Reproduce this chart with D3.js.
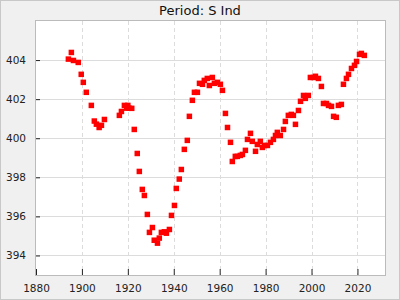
<!DOCTYPE html>
<html>
<head>
<meta charset="utf-8">
<script src="https://cdn.jsdelivr.net/npm/d3@7"></script>
<style>
  body { margin: 0; background: #f0f0f0; }
  svg { display: block; font-family: "DejaVu Sans", sans-serif; }
</style>
</head>
<body>
<div id="vis"></div>
<script>
// data
var years = [1894.1, 1895.4, 1896.3, 1898.4, 1899.7, 1900.6, 1901.9, 1904.1, 1905.4, 1906.3,
  1907.5, 1908.5, 1909.8, 1916.3, 1917.2, 1918.5, 1919.5, 1920.0, 1920.5, 1921.7,
  1922.8, 1924.1, 1925.0, 1926.3, 1927.2, 1928.5, 1929.4, 1930.7, 1931.5, 1932.9,
  1933.7, 1934.6, 1935.9, 1936.8, 1938.1, 1939.0, 1940.3, 1941.1, 1942.4, 1943.3,
  1944.6, 1945.9, 1946.8, 1948.1, 1949.0, 1950.3, 1951.2, 1952.5, 1953.3, 1954.6,
  1955.5, 1956.8, 1957.7, 1959.0, 1960.3, 1961.2, 1962.5, 1963.4, 1964.7, 1965.5,
  1966.8, 1967.7, 1969.0, 1969.9, 1971.2, 1972.1, 1973.4, 1974.2, 1975.6, 1976.4,
  1977.7, 1978.6, 1979.5, 1980.8, 1982.1, 1983.4, 1984.3, 1985.1, 1986.4, 1987.8,
  1988.6, 1989.9, 1991.2, 1992.1, 1993.0, 1994.3, 1995.2, 1996.5, 1997.3, 1998.6,
  1999.5, 2000.8, 2001.7, 2003.0, 2004.3, 2005.2, 2006.5, 2007.4, 2008.7, 2009.6,
  2010.8, 2011.7, 2013.0, 2013.9, 2015.2, 2016.1, 2017.4, 2018.7, 2019.6, 2020.9,
  2021.7, 2023.0];
var values = [404.05, 404.39, 403.98, 403.88, 403.27, 402.86, 402.35, 401.68, 400.88, 400.72,
  400.55, 400.66, 400.96, 401.17, 401.37, 401.68, 401.54, 401.68, 401.54, 401.53,
  400.45, 399.22, 398.30, 397.38, 397.07, 396.10, 395.18, 395.43, 394.78, 394.63,
  394.89, 395.18, 395.21, 395.14, 395.33, 396.05, 396.56, 397.43, 397.91, 398.40,
  399.43, 399.89, 401.12, 401.94, 402.35, 402.35, 402.81, 402.76, 402.96, 403.06,
  402.70, 403.11, 402.81, 402.86, 402.76, 402.45, 401.27, 400.55, 399.79, 398.81,
  399.07, 399.07, 399.12, 399.17, 399.38, 399.94, 400.25, 399.84, 399.33, 399.68,
  399.84, 399.53, 399.63, 399.63, 399.79, 399.94, 400.14, 400.30, 400.14, 400.45,
  400.86, 401.17, 401.22, 401.17, 400.71, 401.42, 401.89, 402.19, 402.04, 402.19,
  403.11, 403.11, 403.17, 403.06, 402.65, 401.78, 401.78, 401.68, 401.63, 401.12,
  401.07, 401.68, 401.73, 402.76, 403.06, 403.27, 403.57, 403.73, 403.93, 404.29,
  404.34, 404.24];
var xTicks = [1880, 1900, 1920, 1940, 1960, 1980, 2000, 2020];
var yTicks = [394, 396, 398, 400, 402, 404];
var title = "Period: S Ind";

var W = 400, H = 300;
var margin = {top: 21, right: 15, bottom: 25, left: 36},
    width = W - margin.left - margin.right,
    height = H - margin.top - margin.bottom;

var data = years.map(function(y, i) { return {year: y, value: values[i]}; });

var svg = d3.select("#vis")
    .append("svg")
    .attr("width", W)
    .attr("height", H);

svg.append("rect")
    .attr("x", 0.5).attr("y", 0.5)
    .attr("width", W - 1).attr("height", H - 1)
    .attr("fill", "#f0f0f0")
    .attr("stroke", "#c8c8c8");

svg.append("text")
    .attr("x", W / 2)
    .attr("y", 15)
    .attr("text-anchor", "middle")
    .attr("font-size", "13px")
    .attr("fill", "#111")
    .text(title);

var x = d3.scaleLinear().domain([1880, 2032]).range([0, width]);
var y = d3.scaleLinear().domain([393, 406]).range([height, 0]);

var plot = svg.append("g")
    .attr("transform", "translate(" + margin.left + "," + margin.top + ")");

plot.append("rect")
    .attr("width", width).attr("height", height)
    .attr("fill", "#fff");

// grid
plot.selectAll(".hgrid")
    .data(yTicks)
    .enter().append("line")
    .attr("x1", 0).attr("x2", width)
    .attr("y1", function(d) { return Math.round(y(d)) + 0.5; })
    .attr("y2", function(d) { return Math.round(y(d)) + 0.5; })
    .attr("stroke", "#dcdcdc");

plot.selectAll(".vgrid")
    .data(xTicks.slice(1))
    .enter().append("line")
    .attr("y1", 0).attr("y2", height)
    .attr("x1", function(d) { return Math.round(x(d)) + 0.5; })
    .attr("x2", function(d) { return Math.round(x(d)) + 0.5; })
    .attr("stroke", "#dcdcdc")
    .attr("stroke-dasharray", "4,3");

// axes, ticks pointing inward
plot.append("g")
    .attr("transform", "translate(0," + height + ")")
    .call(d3.axisBottom(x).tickValues(d3.range(1890, 2031, 20)).tickSize(-3).tickFormat(""))
    .call(d3.axisBottom(x).tickValues(xTicks).tickSize(-6).tickPadding(10).tickFormat(d3.format("d")));

plot.append("g")
    .call(d3.axisLeft(y).tickValues(d3.range(395, 406, 2)).tickSize(-3).tickFormat(""))
    .call(d3.axisLeft(y).tickValues(yTicks).tickSize(-4).tickPadding(10));

svg.selectAll(".domain").remove();
svg.selectAll(".tick line").attr("stroke", "#222");
svg.selectAll(".tick text")
    .attr("font-size", "10.5px")
    .attr("font-family", "DejaVu Sans, sans-serif")
    .attr("fill", "#222");

plot.append("rect")
    .attr("x", -0.5).attr("y", -0.5)
    .attr("width", width + 1).attr("height", height + 1)
    .attr("fill", "none")
    .attr("stroke", "#bbbbbb");

// points
var s = 5.5;
plot.selectAll(".pt")
    .data(data)
    .enter().append("rect")
    .attr("class", "pt")
    .attr("x", function(d) { return x(d.year) - s / 2; })
    .attr("y", function(d) { return y(d.value) - s / 2; })
    .attr("width", s).attr("height", s)
    .attr("fill", "#ff0000");
</script>
</body>
</html>
